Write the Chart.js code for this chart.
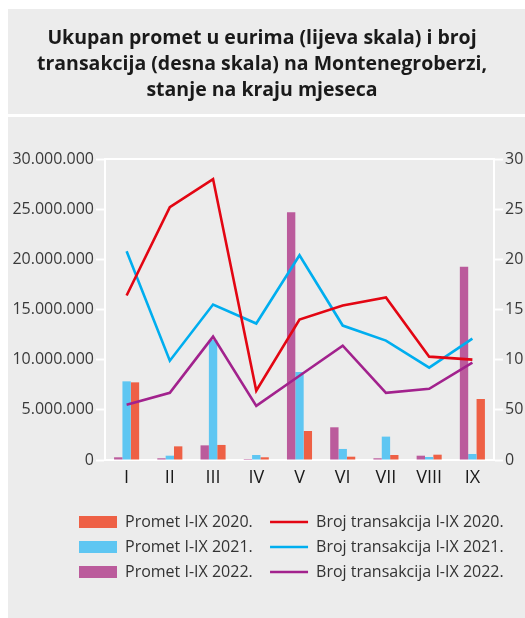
<!DOCTYPE html>
<html>
<head>
<meta charset="utf-8">
<script src="https://cdn.jsdelivr.net/npm/chart.js@4.4.1/dist/chart.umd.min.js"></script>
<style>
  html, body { margin: 0; padding: 0; background: #ffffff; overflow: hidden; }
  canvas { display: block; }
</style>
</head>
<body>
<canvas id="c" width="525" height="618"></canvas>
<script>
// ---- data ----
const categories = ['I', 'II', 'III', 'IV', 'V', 'VI', 'VII', 'VIII', 'IX'];
const promet2020 = [7740000, 1360000, 1500000, 270000, 2890000, 330000, 500000, 530000, 6080000];
const promet2021 = [7840000, 430000, 11960000, 500000, 8770000, 1100000, 2330000, 300000, 600000];
const promet2022 = [270000, 170000, 1460000, 100000, 24700000, 3260000, 170000, 430000, 19270000];
const broj2020 = [164, 252, 280, 69, 140, 154, 162, 103, 100];
const broj2021 = [208, 99, 155, 136, 204, 134, 119, 92, 121];
const broj2022 = [55, 67, 123, 54, 84, 114, 67, 71, 97];
const leftTickLabels = ['0', '5.000.000', '10.000.000', '15.000.000', '20.000.000', '25.000.000', '30.000.000'];
const rightTickLabels = ['0', '50', '100', '150', '200', '250', '300'];
const titleLines = [
  'Ukupan promet u eurima (lijeva skala) i broj',
  'transakcija (desna skala) na Montenegroberzi,',
  'stanje na kraju mjeseca'
];
const seriesNames = {
  p2020: 'Promet I-IX 2020.', p2021: 'Promet I-IX 2021.', p2022: 'Promet I-IX 2022.',
  b2020: 'Broj transakcija I-IX 2020.', b2021: 'Broj transakcija I-IX 2021.', b2022: 'Broj transakcija I-IX 2022.'
};

const FONT = "'Open Sans', 'Noto Sans', sans-serif";

const panels = {
  id: 'panels',
  beforeDraw(chart) {
    const ctx = chart.ctx;
    ctx.save();
    ctx.fillStyle = '#ffffff';
    ctx.fillRect(0, 0, chart.width, chart.height);
    ctx.fillStyle = '#ececec';
    ctx.fillRect(8, 9, chart.width - 8, 105);
    ctx.fillRect(8, 117, chart.width - 8, chart.height - 117);
    ctx.restore();
  }
};

const legendShift = {
  id: 'legendShift',
  afterLayout(chart) {
    const lg = chart.legend;
    if (lg) { lg.left = 79 - lg.options.labels.padding; }
  }
};

const legendRank = [4, 2, 0, 1, 3, 5];

new Chart(document.getElementById('c'), {
  data: {
    labels: categories,
    datasets: [
      { type: 'bar', label: seriesNames.p2022, data: promet2022, backgroundColor: '#bb5b9c', yAxisID: 'y', order: 2, pointStyle: 'rect' },
      { type: 'bar', label: seriesNames.p2021, data: promet2021, backgroundColor: '#5ec6f2', yAxisID: 'y', order: 2, pointStyle: 'rect' },
      { type: 'bar', label: seriesNames.p2020, data: promet2020, backgroundColor: '#ee6045', yAxisID: 'y', order: 2, pointStyle: 'rect' },
      { type: 'line', label: seriesNames.b2020, data: broj2020, borderColor: '#e30613', backgroundColor: '#e30613', borderWidth: 2.6, pointRadius: 0, yAxisID: 'y1', order: 1, pointStyle: 'line' },
      { type: 'line', label: seriesNames.b2021, data: broj2021, borderColor: '#00aeef', backgroundColor: '#00aeef', borderWidth: 2.6, pointRadius: 0, yAxisID: 'y1', order: 1, pointStyle: 'line' },
      { type: 'line', label: seriesNames.b2022, data: broj2022, borderColor: '#a2228d', backgroundColor: '#a2228d', borderWidth: 2.6, pointRadius: 0, yAxisID: 'y1', order: 0, pointStyle: 'line' }
    ]
  },
  options: {
    responsive: false,
    animation: false,
    events: [],
    layout: { padding: { left: 0, right: 1, top: 0, bottom: 28 } },
    datasets: { bar: { categoryPercentage: 0.58, barPercentage: 1.0 } },
    plugins: {
      tooltip: { enabled: false },
      title: {
        display: true,
        text: titleLines,
        color: '#1a1a1a',
        font: { family: FONT, size: 19.5, weight: 'bold', lineHeight: '26.2px' },
        padding: { top: 25, bottom: 55.4 }
      },
      legend: {
        display: true,
        position: 'bottom',
        align: 'start',
        labels: {
          usePointStyle: true,
          pointStyleWidth: 38,
          boxHeight: 12,
          padding: 9,
          color: '#333333',
          font: { family: FONT, size: 16 },
          sort: (a, b) => legendRank[a.datasetIndex] - legendRank[b.datasetIndex],
          generateLabels(chart) {
            const items = Chart.defaults.plugins.legend.labels.generateLabels(chart);
            items.forEach(it => {
              if (chart.data.datasets[it.datasetIndex].type === 'bar') it.text = it.text + '  ';
            });
            return items;
          }
        }
      }
    },
    scales: {
      x: {
        type: 'category',
        position: 'bottom',
        grid: { display: false },
        border: { display: true, color: '#ffffff', width: 2 },
        ticks: { color: '#1a1a1a', font: { family: FONT, size: 18 }, padding: -1 },
        afterFit(s) { s.height = 45; }
      },
      xTop: {
        type: 'category',
        position: 'top',
        grid: { display: false },
        ticks: { display: false },
        border: { display: true, color: '#ffffff', width: 2 },
        afterFit(s) { s.height = 0; }
      },
      y: {
        position: 'left',
        min: 0, max: 30000000,
        ticks: { stepSize: 5000000, color: '#3a3a3a', font: { family: FONT, size: 16 }, padding: 2,
                 callback: (v, i) => leftTickLabels[i] },
        grid: { display: true, drawOnChartArea: false, drawTicks: true, tickLength: 9, tickColor: '#ffffff', tickWidth: 2, color: '#ffffff' },
        border: { display: true, color: '#ffffff', width: 2 },
        afterFit(s) { s.width = 105; }
      },
      y1: {
        position: 'right',
        min: 0, max: 300,
        ticks: { stepSize: 50, color: '#3a3a3a', font: { family: FONT, size: 16 }, padding: 2,
                 callback: (v, i) => rightTickLabels[i] },
        grid: { display: true, drawOnChartArea: false, drawTicks: true, tickLength: 9, tickColor: '#ffffff', tickWidth: 2, color: '#ffffff' },
        border: { display: true, color: '#ffffff', width: 2 },
        afterFit(s) { s.width = 30; }
      }
    }
  },
  plugins: [panels, legendShift]
});
</script>
</body>
</html>
